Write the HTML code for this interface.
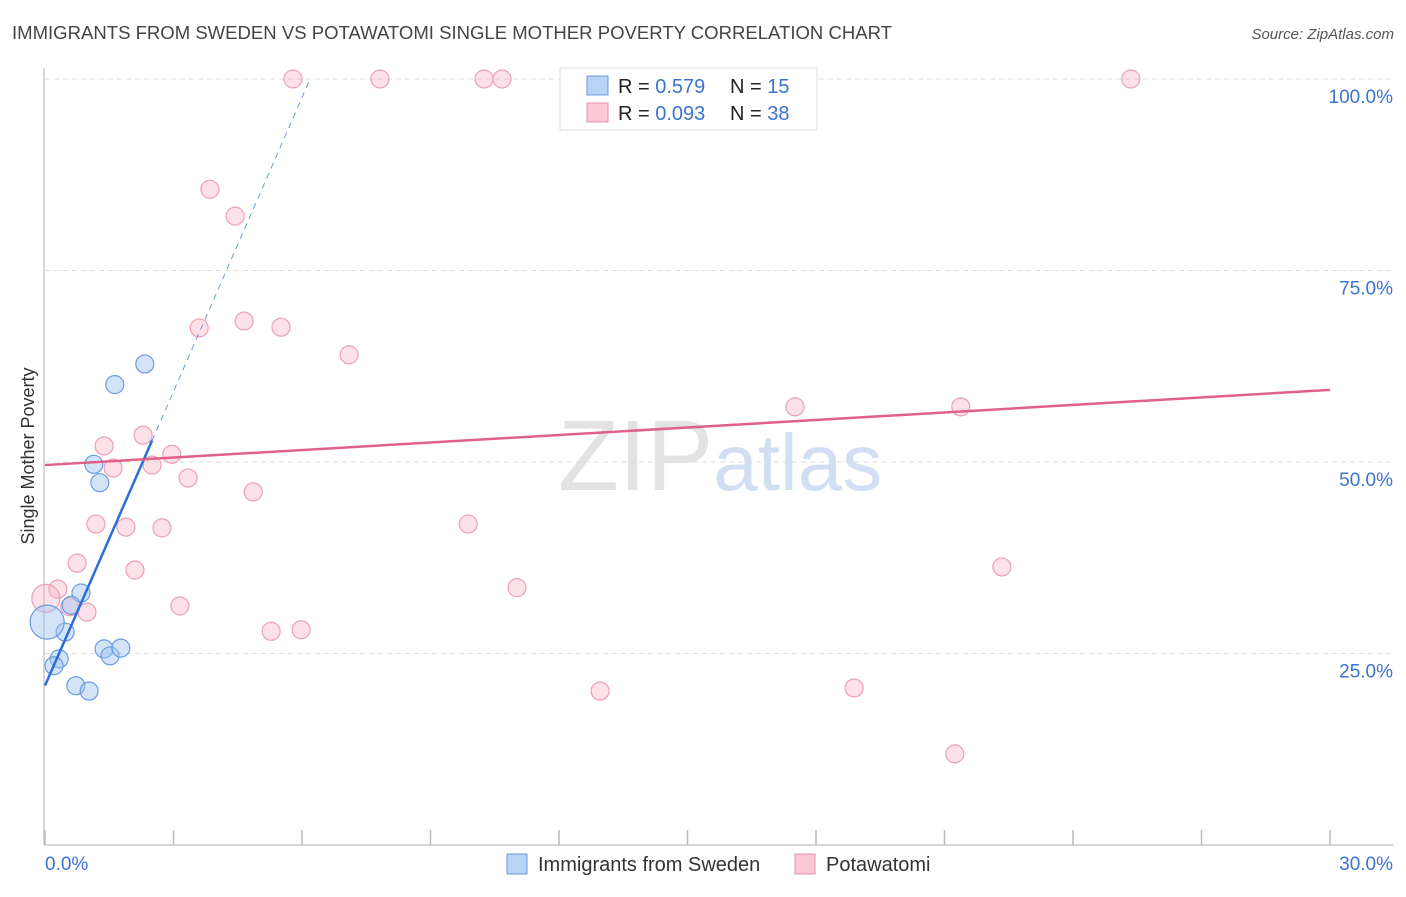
<!DOCTYPE html>
<html><head><meta charset="utf-8"><style>
body{margin:0;background:#fff;font-family:"Liberation Sans",sans-serif;}
svg text{font-family:"Liberation Sans",sans-serif;}
</style></head><body>
<svg id="chart" width="1406" height="892" xmlns="http://www.w3.org/2000/svg">
<text x="12" y="39" font-size="18.5" fill="#444" textLength="880" lengthAdjust="spacingAndGlyphs">IMMIGRANTS FROM SWEDEN VS POTAWATOMI SINGLE MOTHER POVERTY CORRELATION CHART</text>
<text x="1394" y="39" font-size="15" fill="#555" text-anchor="end" font-style="italic">Source: ZipAtlas.com</text>
<text x="720" y="490" font-size="100" fill="#ddd" text-anchor="middle" font-family="Liberation Serif" opacity="0.8">ZIP<tspan fill="#c8d8f0" font-family="Liberation Sans" font-size="80">atlas</tspan></text>
<g id="grid"></g>
<g id="marks"></g>
<text transform="translate(34,456) rotate(-90)" font-size="18" fill="#333" text-anchor="middle">Single Mother Poverty</text>
<text x="45" y="870" font-size="19" fill="#3b73d1">0.0%</text>
<text x="1393" y="870" font-size="19" fill="#3b73d1" text-anchor="end">30.0%</text>
<g>
<rect x="560" y="68" width="257" height="62" fill="#fff" stroke="#ddd"/>
<rect x="587" y="76" width="21" height="19" fill="#b8d3f5" stroke="#6a9be0"/>
<rect x="587" y="103" width="21" height="19" fill="#fcc8d8" stroke="#e990ab"/>
<text x="618" y="93" font-size="20" fill="#222">R = <tspan fill="#3b73d1">0.579</tspan></text>
<text x="730" y="93" font-size="20" fill="#222">N = <tspan fill="#3b73d1">15</tspan></text>
<text x="618" y="120" font-size="20" fill="#222">R = <tspan fill="#3b73d1">0.093</tspan></text>
<text x="730" y="120" font-size="20" fill="#222">N = <tspan fill="#3b73d1">38</tspan></text>
</g>
<g>
<rect x="507" y="854" width="20" height="20" fill="#b8d3f5" stroke="#6a9be0"/>
<text x="538" y="871" font-size="20" fill="#333">Immigrants from Sweden</text>
<rect x="795" y="854" width="20" height="20" fill="#fcc8d8" stroke="#e990ab"/>
<text x="826" y="871" font-size="20" fill="#333">Potawatomi</text>
</g>
</svg>
<script>
const yTicks=[25,50,75,100];
const yTickLabels=["25.0%","50.0%","75.0%","100.0%"];
const xTicks=[0,3,6,9,12,15,18,21,24,27,30];
const swedenX=[2.33,1.63,1.14,1.28,0.84,0.61,0.47,0.05,0.33,0.21,1.38,1.52,1.77,0.72,1.03];
const swedenY=[62.8,60.1,49.7,47.3,32.9,31.3,27.8,29.1,24.3,23.4,25.6,24.7,25.7,20.8,20.1];
const swedenR=[9,9,9,9,9,9,9,17,9,9,9,9,9,9,9];
const potX=[5.79,7.82,10.25,10.67,25.35,3.85,4.44,3.60,4.65,5.51,7.10,17.51,21.38,2.29,1.38,2.96,2.50,1.59,3.34,4.86,1.19,1.89,2.73,9.88,0.75,2.10,22.34,0.30,11.02,0.02,0.58,0.98,3.15,5.28,5.98,12.96,18.89,21.24];
const potY=[100,100,100,100,100,85.6,82.1,67.5,68.4,67.6,64.0,57.2,57.2,53.5,52.1,51.0,49.6,49.2,47.9,46.1,41.9,41.5,41.4,41.9,36.8,35.9,36.3,33.4,33.6,32.2,31.1,30.4,31.2,27.9,28.1,20.1,20.5,11.9];
const potR=[9,9,9,9,9,9,9,9,9,9,9,9,9,9,9,9,9,9,9,9,9,9,9,9,9,9,9,9,9,14,9,9,9,9,9,9,9,9];
const swedenTrend=[20.8,12.8];
const potTrend=[49.6,0.327];
const NS="http://www.w3.org/2000/svg";
const xs=v=>45+v/30*1285;
const ys=v=>845-v/100*766;
function mk(tag,attrs,parent){const e=document.createElementNS(NS,tag);for(const k in attrs)e.setAttribute(k,attrs[k]);parent.appendChild(e);return e;}
const grid=document.getElementById('grid'),marks=document.getElementById('marks');
let ax=mk('line',{x1:44,y1:68,x2:44,y2:845,stroke:'#ccc','stroke-width':1.5},grid);


let bx=mk('line',{x1:44,y1:845,x2:1393,y2:845,stroke:'#ccc','stroke-width':1.5},grid);


yTicks.forEach((t,i)=>{
 const g=mk('line',{x1:45,x2:1393,y1:ys(t),y2:ys(t),stroke:'#ddd','stroke-dasharray':'5,4'},grid);
 
 
 const l=mk('text',{x:1393,y:ys(t)+24,'font-size':19,fill:'#3b73d1','text-anchor':'end'},grid);
 l.textContent=yTickLabels[i];
 
 
});
xTicks.forEach(t=>{
 const g=mk('line',{x1:xs(t),x2:xs(t),y1:830,y2:845,stroke:'#bbb','stroke-width':1.5},grid);
 
 
});
potX.forEach((x,i)=>{
 const c=mk('circle',{cx:xs(x),cy:ys(potY[i]),r:potR[i],fill:'rgba(248,180,200,0.4)',stroke:'#eaa0b8','stroke-width':1.2},marks);
 
 
});
swedenX.forEach((x,i)=>{
 const c=mk('circle',{cx:xs(x),cy:ys(swedenY[i]),r:swedenR[i],fill:'rgba(160,195,240,0.45)',stroke:'#6a9be0','stroke-width':1.2},marks);
 
 
});
const sEnd=(100-swedenTrend[0])/swedenTrend[1];
let s1=mk('line',{x1:xs(0),y1:ys(swedenTrend[0]),x2:xs(2.5),y2:ys(swedenTrend[0]+swedenTrend[1]*2.5),stroke:'#2a6fd6','stroke-width':2.5},marks);


let s2=mk('line',{x1:xs(2.5),y1:ys(swedenTrend[0]+swedenTrend[1]*2.5),x2:xs(sEnd),y2:ys(100),stroke:'#6a9be0','stroke-width':1,'stroke-dasharray':'6,5'},marks);


let p1=mk('line',{x1:xs(0),y1:ys(potTrend[0]),x2:xs(30),y2:ys(potTrend[0]+potTrend[1]*30),stroke:'#e0608a','stroke-width':2.5},marks);


</script>
</body></html>
